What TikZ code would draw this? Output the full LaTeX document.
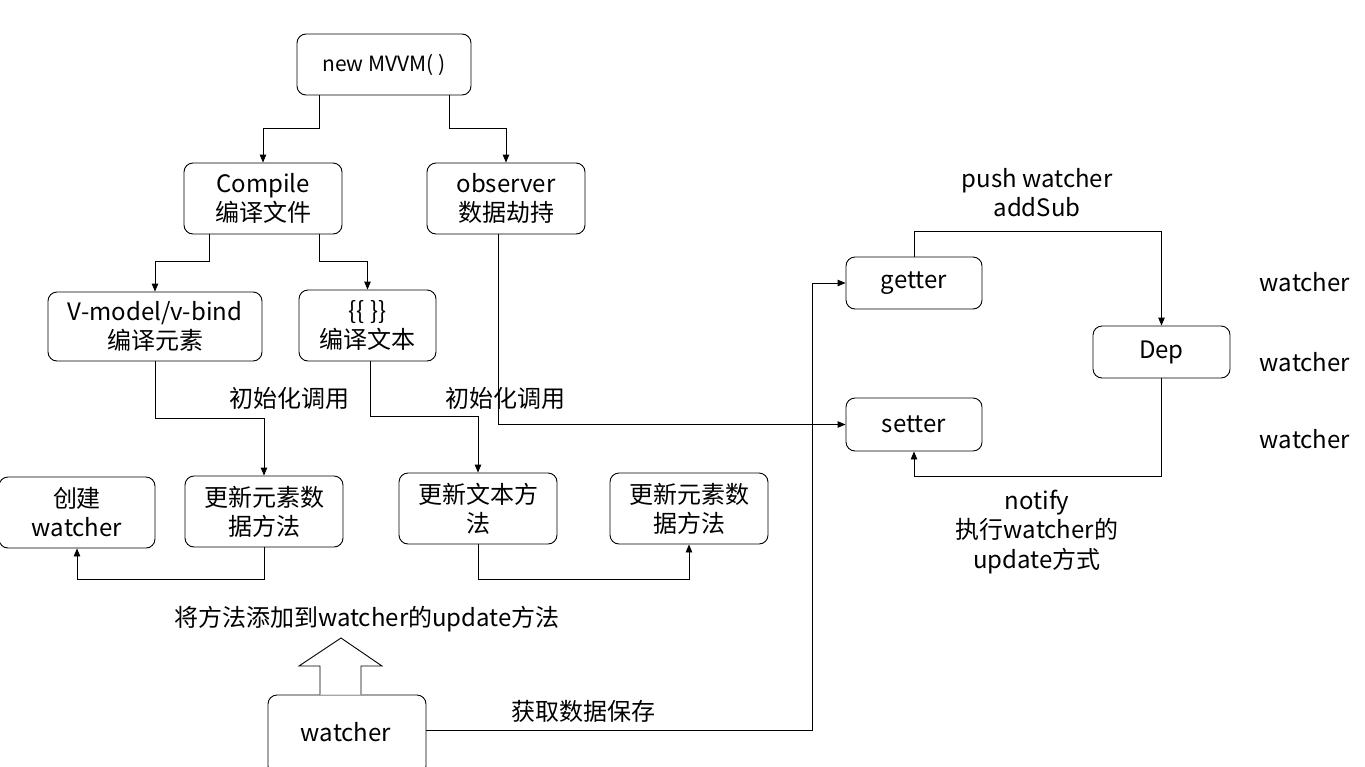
\documentclass[tikz,border=0pt]{standalone}
\usepackage{fontspec}
\setmainfont{Noto Sans CJK SC}
\usetikzlibrary{arrows.meta}
\begin{document}
\begin{tikzpicture}[x=1pt,y=-1pt,
  box/.style={draw=black,line width=0.9pt,rounded corners=9pt,align=center,inner sep=0pt,
    font=\fontsize{24}{29}\selectfont},
  arr/.style={draw=black,line width=0.9pt,-{Triangle[length=8pt,width=6.5pt]}},
  lbl/.style={align=center,inner sep=0pt,font=\fontsize{24}{29.5}\selectfont}]
\useasboundingbox (0,0) rectangle (1365,766);
\begin{scope}
\clip (0,0) rectangle (1365,766);
% boxes
\node[box,minimum width=174pt,minimum height=61pt,font=\fontsize{21}{25}\selectfont] (mvvm) at (384,64.5) {new MVVM( )};
\node[box,minimum width=158pt,minimum height=71pt] (compile) at (263,198.5) {Compile\\编译文件};
\node[box,minimum width=158pt,minimum height=71pt] (observer) at (506,198.5) {observer\\数据劫持};
\node[box,minimum width=214pt,minimum height=69pt] (vmodel) at (155,326.5) {V-model/v-bind\\编译元素};
\node[box,minimum width=137pt,minimum height=71pt] (mustache) at (367.5,325.5) {\{\{ \}\}\\编译文本};
\node[box,minimum width=156pt,minimum height=71pt] (create) at (77,512.5) {创建\\watcher};
\node[box,minimum width=158pt,minimum height=71pt] (upd1) at (264,511.5) {更新元素数\\据方法};
\node[box,minimum width=158pt,minimum height=71pt] (updtext) at (478,508.5) {更新文本方\\法};
\node[box,minimum width=158pt,minimum height=71pt] (upd2) at (689,508.5) {更新元素数\\据方法};
\node[box,minimum width=158pt,minimum height=80pt] (watcher) at (347,735) {};
\node[lbl] (watchertext) at (346,732) {watcher};
\node[box,minimum width=136pt,minimum height=52pt] (getter) at (914,283) {getter};
\node[box,minimum width=136pt,minimum height=53pt] (setter) at (914,424.5) {setter};
\node[box,minimum width=137pt,minimum height=52pt] (dep) at (1161.5,352) {Dep};
% labels
\node[lbl] (init1) at (289,398) {初始化调用};
\node[lbl] (init2) at (505,398) {初始化调用};
\node[lbl] (addupd) at (367,619) {将方法添加到watcher的update方法};
\node[lbl] (fetch) at (583,711) {获取数据保存};
\node[lbl] (push) at (1037,192.5) {push watcher\\addSub};
\node[lbl] (notify) at (1037,532) {notify\\执行watcher的\\update方式};
\node[lbl] (w1) at (1305,282) {watcher};
\node[lbl] (w2) at (1305,362) {watcher};
\node[lbl] (w3) at (1305,439) {watcher};
% connectors
\draw[arr] (319,0 |- mvvm.south) |- (compile.north |- 0,128) -- (compile.north);
\draw[arr] (449,0 |- mvvm.south) |- (observer.north |- 0,128) -- (observer.north);
\draw[arr] (209,0 |- compile.south) |- (vmodel.north |- 0,261) -- (vmodel.north);
\draw[arr] (319,0 |- compile.south) |- (mustache.north |- 0,261) -- (mustache.north);
\draw[arr] (vmodel.south) -- (vmodel.south |- 0,418) -| (upd1.north);
\draw[arr] (370,0 |- mustache.south) -- (370,416) -| (updtext.north);
\draw[arr] (498,0 |- observer.south) |- (setter.west);
\draw[arr] (upd1.south) -- (upd1.south |- 0,579) -| (create.south);
\draw[arr] (updtext.south) -- (updtext.south |- 0,579) -| (upd2.south);
\draw[arr] (watcher.east |- 0,730) -- (812,730) |- (getter.west);
\draw[arr] (getter.north) |- (dep.north |- 0,231) -- (dep.north);
\draw[arr] (dep.south) -- (dep.south |- 0,476) -| (setter.south);
% hollow block arrow from watcher
\draw[line width=0.9pt,fill=white] (320,0 |- watcher.north) -- (320,666) -- (299,666) -- (341,638) -- (382,666) -- (361,666) -- (361,0 |- watcher.north);
\end{scope}
\end{tikzpicture}
\end{document}
